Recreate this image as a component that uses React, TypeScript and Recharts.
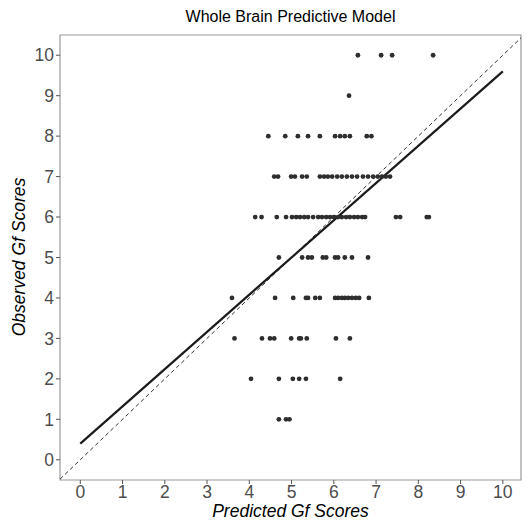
import React from 'react';
import {
  ScatterChart,
  Scatter,
  XAxis,
  YAxis,
  ReferenceLine,
  ReferenceArea,
} from 'recharts';

// predicted Gf score of each subject, grouped by observed score
const obs10 = [6.57, 7.12, 7.38, 8.35];
const obs9 = [6.36];
const obs8 = [4.45, 4.85, 5.15, 5.39, 5.67, 6.03, 6.15, 6.26, 6.38, 6.78, 6.89];
const obs7 = [
  4.59, 4.68, 4.99, 5.08, 5.25, 5.36, 5.67, 5.77, 5.86, 5.96, 6.08, 6.19, 6.31,
  6.43, 6.55, 6.69, 6.81, 6.93, 7.04, 7.14, 7.23, 7.33,
];
const obs6 = [
  4.14, 4.29, 4.65, 4.87, 5.01, 5.11, 5.2, 5.3, 5.39, 5.51, 5.63, 5.72, 5.82,
  5.91, 6.0, 6.1, 6.19, 6.29, 6.38, 6.48, 6.57, 6.67, 6.74, 7.47, 7.57, 8.2, 8.25,
];
const obs5 = [4.7, 5.25, 5.39, 5.48, 5.74, 5.82, 6.03, 6.1, 6.26, 6.43, 6.81];
const obs4 = [
  3.59, 4.61, 5.04, 5.34, 5.39, 5.56, 5.67, 6.03, 6.1, 6.19, 6.26, 6.34, 6.43,
  6.52, 6.6, 6.83,
];
const obs3 = [3.65, 4.3, 4.49, 4.59, 4.99, 5.18, 5.22, 5.36, 6.05, 6.38];
const obs2 = [4.04, 4.7, 5.03, 5.18, 5.34, 6.15];
const obs1 = [4.7, 4.87, 4.95];

const rows: Array<[number, number[]]> = [
  [10, obs10],
  [9, obs9],
  [8, obs8],
  [7, obs7],
  [6, obs6],
  [5, obs5],
  [4, obs4],
  [3, obs3],
  [2, obs2],
  [1, obs1],
];

const ticks = [0, 1, 2, 3, 4, 5, 6, 7, 8, 9, 10];

// fitted regression line
const fitStart = { x: 0, y: 0.4 };
const fitEnd = { x: 10, y: 9.6 };

const points = rows.flatMap(([obs, preds]) =>
  preds.map((p) => ({ predicted: p, observed: obs }))
);

const font = '"Liberation Sans", Arial, sans-serif';
const xDomain: [number, number] = [-0.48, 10.43];
const yDomain: [number, number] = [-0.5, 10.5];

export default function App() {
  return (
    <div
      style={{
        position: 'absolute',
        left: 0,
        top: 0,
        width: 527,
        height: 520,
        background: '#fff',
        fontFamily: font,
      }}
    >
      <div
        style={{
          position: 'absolute',
          left: 60,
          width: 461,
          top: 9,
          textAlign: 'center',
          fontSize: 16,
          lineHeight: 1,
          color: '#000',
        }}
      >
        Whole Brain Predictive Model
      </div>
      <div
        style={{
          position: 'absolute',
          left: 60,
          width: 461,
          top: 503,
          textAlign: 'center',
          fontSize: 17.5,
          lineHeight: 1,
          fontStyle: 'italic',
          color: '#000',
        }}
      >
        Predicted Gf Scores
      </div>
      <div
        style={{
          position: 'absolute',
          left: 20,
          top: 257,
          width: 0,
          height: 0,
        }}
      >
        <div
          style={{
            position: 'absolute',
            transform: 'translate(-50%, -50%) rotate(-90deg)',
            whiteSpace: 'nowrap',
            fontSize: 17.5,
            lineHeight: 1,
            fontStyle: 'italic',
            color: '#000',
          }}
        >
          Observed Gf Scores
        </div>
      </div>
      <ScatterChart
        width={527}
        height={520}
        margin={{ top: 35, right: 6, left: 0, bottom: 0 }}
        style={{ position: 'absolute', left: 0, top: 0 }}
      >
        <XAxis
          type="number"
          dataKey="predicted"
          domain={xDomain}
          ticks={ticks}
          allowDataOverflow
          height={40}
          axisLine={false}
          tickLine={{ stroke: '#555' }}
          tickSize={4}
          tick={{ fill: '#4d4d4d', fontSize: 17.5, fontFamily: font }}
        />
        <YAxis
          type="number"
          dataKey="observed"
          domain={yDomain}
          ticks={ticks}
          allowDataOverflow
          width={60}
          axisLine={false}
          tickLine={{ stroke: '#555' }}
          tickSize={4}
          tick={{ fill: '#4d4d4d', fontSize: 17.5, fontFamily: font }}
        />
        <ReferenceArea
          x1={xDomain[0]}
          x2={xDomain[1]}
          y1={yDomain[0]}
          y2={yDomain[1]}
          fill="none"
          stroke="#9a9a9a"
          strokeWidth={1.2}
          fillOpacity={0}
        />
        <Scatter
          data={points}
          fill="#2e2e2e"
          isAnimationActive={false}
          shape={(props: any) => (
            <circle cx={props.cx} cy={props.cy} r={2.4} fill="#2e2e2e" />
          )}
        />
        <ReferenceLine
          segment={[
            { x: xDomain[0], y: xDomain[0] },
            { x: xDomain[1], y: xDomain[1] },
          ]}
          stroke="#333"
          strokeWidth={1}
          strokeDasharray="4 3"
        />
        <ReferenceLine
          segment={[fitStart, fitEnd]}
          stroke="#1a1a1a"
          strokeWidth={2.2}
        />
      </ScatterChart>
    </div>
  );
}
